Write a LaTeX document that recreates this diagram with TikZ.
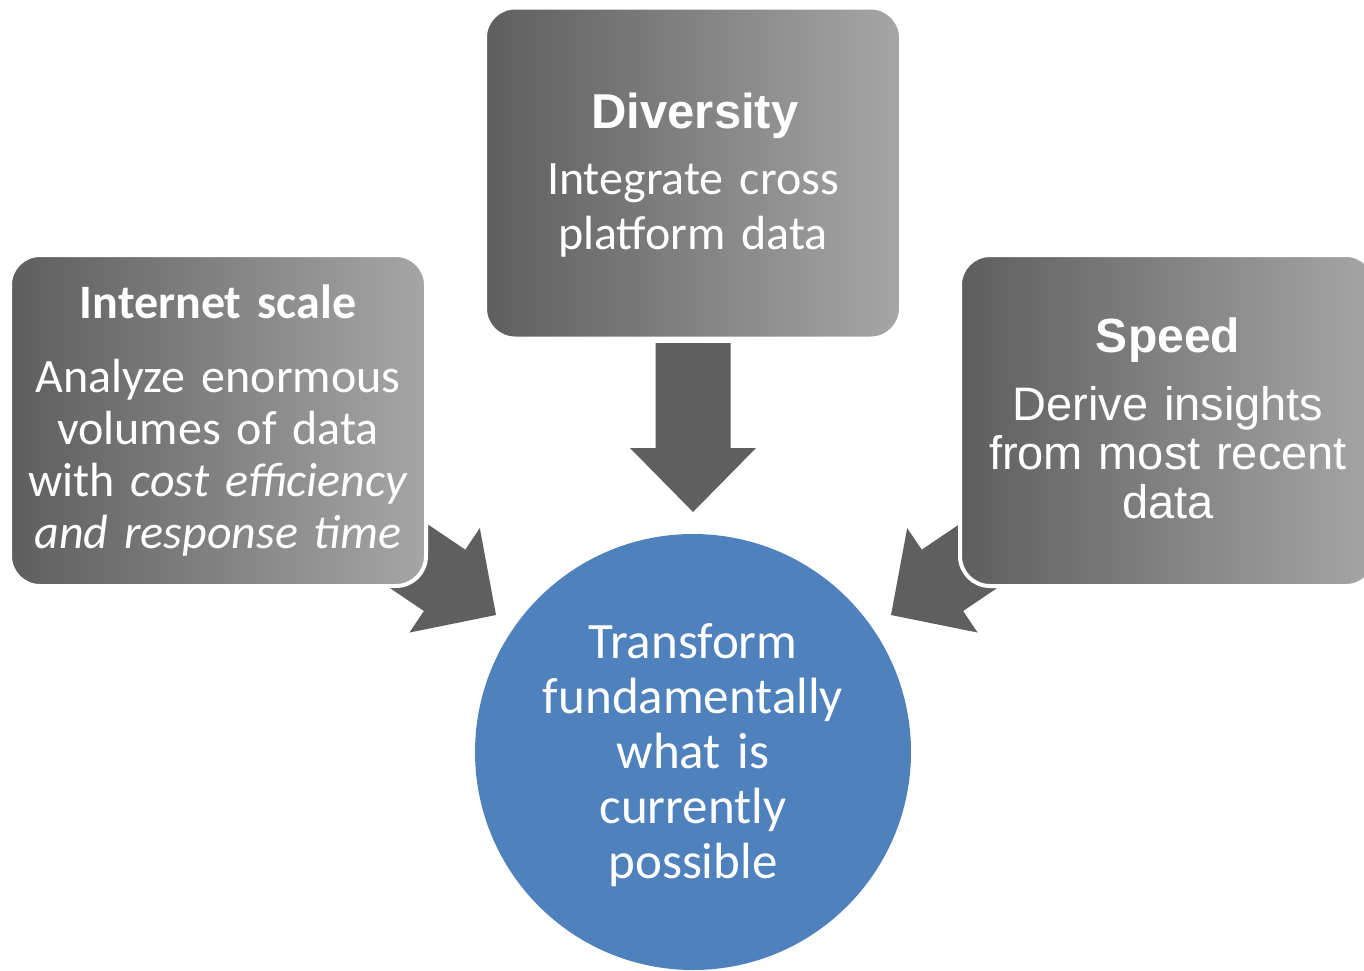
\documentclass[tikz,border=0pt]{standalone}
\usepackage{fontspec}
\setmainfont{Carlito}
\newfontfamily\arialfont{Liberation Sans}
\definecolor{circblue}{HTML}{4F81BD}
\definecolor{arrowgray}{HTML}{5F5F5F}
\definecolor{gradleft}{HTML}{5E5E5E}
\definecolor{gradright}{HTML}{A6A6A6}
\begin{document}
\begin{tikzpicture}[x=1pt,y=-1pt,
  boxshape/.style={rectangle, rounded corners=30pt, draw=white, line width=4pt,
    left color=gradleft, right color=gradright, minimum width=416pt, minimum height=331pt, inner sep=0pt},
  blockarrow/.style={fill=arrowgray},
  boxtext/.style={text=white, align=center, inner sep=0pt, anchor=base, text width=440pt},
]
\useasboundingbox (0,0) rectangle (1364,970);

% block arrows
\fill[blockarrow, shift={(693,512)}, rotate=-90]
  (0,0) -- (-64,63) -- (-64,37.5) -- (-169,37.5) -- (-169,-37.5) -- (-64,-37.5) -- (-64,-63) -- cycle;
\fill[blockarrow, shift={(496,615)}, rotate=-34]
  (0,0) -- (-62,63) -- (-62,37) -- (-180,37) -- (-180,-37) -- (-62,-37) -- (-62,-63) -- cycle;
\fill[blockarrow, shift={(891,615)}, rotate=-146]
  (0,0) -- (-62,63) -- (-62,37) -- (-180,37) -- (-180,-37) -- (-62,-37) -- (-62,-63) -- cycle;

% boxes
\node[boxshape] (div) at (693,173) {};
\node[boxshape] (inet) at (218,420.5) {};
\node[boxshape] (speed) at (1168,420.5) {};

% circle
\node[circle, fill=circblue, minimum size=436pt, inner sep=0pt] (core) at (693,752) {};

% texts
\node[boxtext, font=\arialfont\bfseries\fontsize{49}{55}\selectfont] (divtitle) at (695,128) {Diversity};
\node[boxtext, font=\fontsize{48}{55}\selectfont] (divbody) at (693,194) {Integrate cross\\platform data};

\node[boxtext, font=\bfseries\fontsize{48}{52}\selectfont] (inettitle) at (218,318) {Internet scale};
\node[boxtext, font=\fontsize{48}{52}\selectfont] (inetbody) at (218,392)
  {Analyze enormous\\volumes of data\\with \textit{cost efficiency}\\\textit{and response time}};

\node[boxtext, font=\arialfont\bfseries\fontsize{48}{52}\selectfont] (speedtitle) at (1168,352) {Speed};
\node[boxtext, font=\arialfont\fontsize{47}{49}\selectfont] (speedbody) at (1168,420)
  {Derive insights\\from most recent\\data};

\node[boxtext, font=\fontsize{51}{55}\selectfont] (coretext) at (693,658)
  {Transform\\fundamentally\\what is\\currently\\possible};
\end{tikzpicture}
\end{document}
